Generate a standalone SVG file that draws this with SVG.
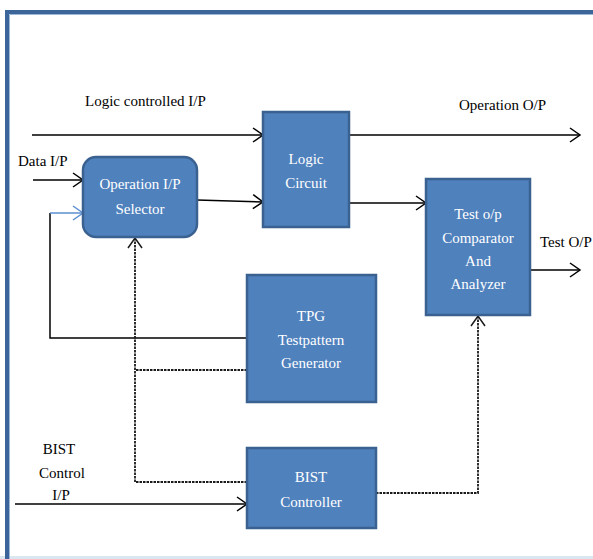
<svg xmlns="http://www.w3.org/2000/svg" width="593" height="559" viewBox="0 0 593 559">
<style>
.box{fill:#4F81BD;stroke:#3A6190;stroke-width:2.5}
.bt{font-family:"Liberation Serif",serif;font-size:15px;fill:#ffffff;text-anchor:middle}
.lb{font-family:"Liberation Serif",serif;font-size:15px;fill:#000000}
.ln{fill:none;stroke:#000000;stroke-width:1.5}
.ds{fill:none;stroke:#1a1a1a;stroke-width:1.8;stroke-dasharray:2.5 1}
</style>
<defs>
<marker id="ah" markerUnits="userSpaceOnUse" markerWidth="14" markerHeight="16" refX="11" refY="8" orient="auto">
<path d="M1,1 L11,8 L1,15" fill="none" stroke="#000" stroke-width="1.5"/>
</marker>
<marker id="ahb" markerUnits="userSpaceOnUse" markerWidth="14" markerHeight="16" refX="11" refY="8" orient="auto">
<path d="M1,1 L11,8 L1,15" fill="none" stroke="#5B8FD0" stroke-width="1.5"/>
</marker>
<marker id="ahg" markerUnits="userSpaceOnUse" markerWidth="14" markerHeight="16" refX="11" refY="8" orient="auto">
<path d="M1,1 L11,8 L1,15" fill="none" stroke="#1a1a1a" stroke-width="1.5"/>
</marker>
</defs>
<rect width="593" height="559" fill="#ffffff"/>
<g id="frame">
<line x1="0" y1="557.5" x2="593" y2="557.5" stroke="#DCE6F0" stroke-width="3"/>
<path d="M7,559 L7,12 L600,12" fill="none" stroke="#3C6699" stroke-width="4"/>
<path d="M9.5,559 L9.5,14.5 L600,14.5" fill="none" stroke="#9DB7D8" stroke-width="1"/>
</g>
<g id="connectors">
<line class="ln" x1="32" y1="135" x2="263" y2="135" marker-end="url(#ah)"/>
<line class="ln" x1="33" y1="180" x2="83" y2="180" marker-end="url(#ah)"/>
<polyline fill="none" stroke="#000" stroke-width="1.5" points="247,338 50,338 50,213"/>
<line x1="50" y1="213" x2="83" y2="213" stroke="#5B8FD0" stroke-width="1.5" marker-end="url(#ahb)"/>
<line class="ln" x1="197" y1="200" x2="263" y2="202" marker-end="url(#ah)"/>
<line class="ln" x1="349" y1="135" x2="580" y2="135" marker-end="url(#ah)"/>
<line class="ln" x1="349" y1="203" x2="426" y2="203" marker-end="url(#ah)"/>
<line class="ln" x1="530" y1="270" x2="580" y2="270" marker-end="url(#ah)"/>
<line class="ln" x1="15" y1="504" x2="247" y2="504" marker-end="url(#ah)"/>
<polyline class="ds" points="247,482 135,482 135,238" marker-end="url(#ahg)"/>
<line class="ds" x1="247" y1="370" x2="135" y2="370"/>
<polyline class="ds" points="376,493 478,493 478,316" marker-end="url(#ahg)"/>
</g>
<g id="labels">
<text class="lb" x="85" y="106">Logic controlled I/P</text>
<text class="lb" x="459" y="110">Operation O/P</text>
<text class="lb" x="18" y="166">Data I/P</text>
<text class="lb" x="540" y="247">Test O/P</text>
<text class="lb" x="59" y="454" text-anchor="middle">BIST</text>
<text class="lb" x="62" y="478" text-anchor="middle">Control</text>
<text class="lb" x="61" y="500" text-anchor="middle">I/P</text>
</g>
<g id="selector">
<rect class="box" x="83" y="157" width="114" height="80" rx="13"/>
<text class="bt" x="140" y="189">Operation I/P</text>
<text class="bt" x="140" y="214">Selector</text>
</g>
<g id="logic">
<rect class="box" x="263" y="112" width="86" height="115"/>
<text class="bt" x="306" y="164">Logic</text>
<text class="bt" x="306" y="188">Circuit</text>
</g>
<g id="comparator">
<rect class="box" x="426" y="179" width="104" height="136"/>
<text class="bt" x="478" y="219">Test o/p</text>
<text class="bt" x="478" y="243">Comparator</text>
<text class="bt" x="478" y="266">And</text>
<text class="bt" x="478" y="289">Analyzer</text>
</g>
<g id="tpg">
<rect class="box" x="247" y="275" width="129" height="127"/>
<text class="bt" x="311" y="321">TPG</text>
<text class="bt" x="311" y="345">Testpattern</text>
<text class="bt" x="311" y="368">Generator</text>
</g>
<g id="bist">
<rect class="box" x="247" y="448" width="129" height="80"/>
<text class="bt" x="311" y="482">BIST</text>
<text class="bt" x="311" y="507">Controller</text>
</g>
</svg>
